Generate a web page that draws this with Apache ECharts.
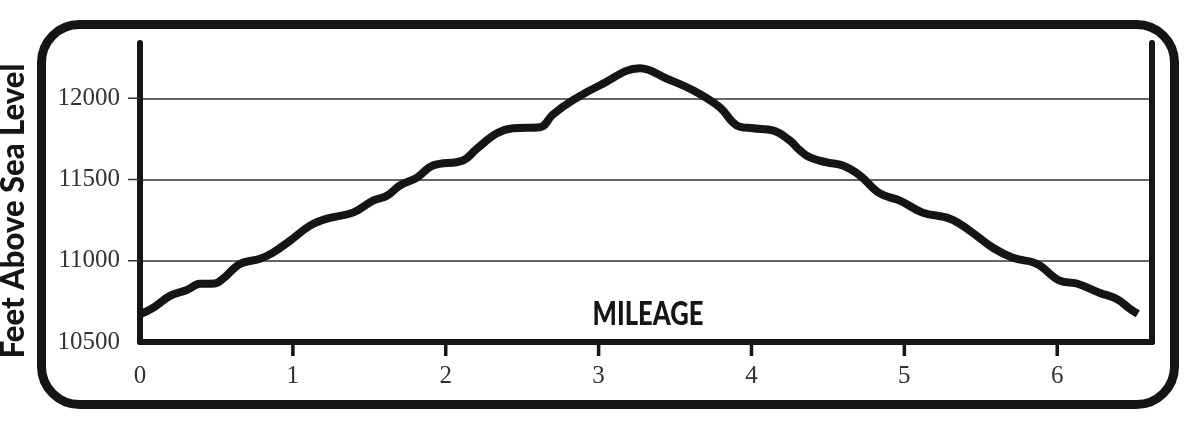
<!DOCTYPE html>
<html>
<head>
<meta charset="utf-8">
<script src="https://cdn.jsdelivr.net/npm/echarts@6/dist/echarts.min.js"></script>
<style>html,body{margin:0;padding:0;background:#fff;}#c{width:1200px;height:429px;}</style>
</head>
<body>
<div id="c"></div>
<script>
// Data
var miles = [0, 0.085, 0.196, 0.307, 0.392, 0.49, 0.543, 0.654, 0.785, 0.87, 0.981, 1.112, 1.223, 1.393, 1.524, 1.615, 1.7, 1.812, 1.916, 2.112, 2.204, 2.335, 2.44, 2.616, 2.701, 2.832, 3.009, 3.27, 3.447, 3.617, 3.793, 3.904, 4.009, 4.14, 4.251, 4.317, 4.382, 4.493, 4.598, 4.709, 4.84, 4.971, 5.121, 5.298, 5.428, 5.579, 5.71, 5.867, 6.017, 6.128, 6.279, 6.39, 6.475, 6.527];
var elevation = [10670, 10710, 10784, 10820, 10858, 10860, 10890, 10980, 11012, 11050, 11123, 11216, 11259, 11296, 11370, 11400, 11463, 11512, 11586, 11617, 11690, 11784, 11815, 11821, 11900, 11988, 12080, 12185, 12120, 12049, 11944, 11833, 11815, 11802, 11740, 11679, 11636, 11605, 11586, 11525, 11414, 11370, 11296, 11259, 11185, 11080, 11018, 10981, 10877, 10860, 10802, 10765, 10704, 10673];
var xTickLabels = [0, 1, 2, 3, 4, 5, 6];
var xTickMarks = [1, 2, 3, 4, 5, 6];
var yTickLabels = [10500, 11000, 11500, 12000];
var yTickMarks = [11000, 11500, 12000];
var yAxisTitle = 'Feet Above Sea Level';
var xAxisTitle = 'MILEAGE';
var xMin = 0, xMax = 6.62, yMin = 10500, yMax = 12340;

var seriesData = miles.map(function (m, i) { return [m, elevation[i]]; });

var chart = echarts.init(document.getElementById('c'), null, {renderer: 'canvas'});
var ink = '#151515';
var titleFont = 'Lato, Roboto, sans-serif';
chart.setOption({
  backgroundColor: '#ffffff',
  animation: false,
  grid: {left: 140, right: 48, top: 43, bottom: 87, containLabel: false, outerBoundsMode: 'none'},
  xAxis: {
    type: 'value', min: xMin, max: xMax, interval: 1,
    axisLine: {show: true, onZero: false, lineStyle: {color: ink, width: 6}},
    axisTick: {show: false},
    axisLabel: {show: true, customValues: xTickLabels, margin: 22, fontFamily: 'Liberation Serif', fontSize: 25, color: '#333',
      formatter: function (v) { return String(v); }},
    splitLine: {show: false}
  },
  yAxis: [{
    type: 'value', min: yMin, max: yMax, interval: 500,
    position: 'left',
    axisLine: {show: true, lineStyle: {color: ink, width: 6}},
    axisTick: {show: false},
    axisLabel: {show: true, customValues: yTickLabels, margin: 20, fontFamily: 'Liberation Serif', fontSize: 25, color: '#333',
      formatter: function (v) { return String(v); }},
    splitLine: {show: true, showMaxLine: false, showMinLine: false, lineStyle: {color: '#333', width: 1.5}}
  }, {
    type: 'value', min: yMin, max: yMax, interval: 500,
    position: 'right',
    axisLine: {show: true, lineStyle: {color: ink, width: 6}},
    axisTick: {show: false}, axisLabel: {show: false}, splitLine: {show: false}
  }],
  graphic: [{
    type: 'rect', silent: true,
    shape: {x: 41.5, y: 24.5, width: 1133, height: 380, r: 38},
    style: {fill: 'none', stroke: ink, lineWidth: 9}
  }, {
    type: 'text', silent: true, x: 648, y: 315, scaleX: 0.8,
    style: {text: xAxisTitle, fontFamily: titleFont, fontWeight: 900, fontSize: 32, fill: ink, align: 'center', verticalAlign: 'middle'}
  }, {
    type: 'text', silent: true, x: 14, y: 211, rotation: Math.PI / 2, scaleX: 0.97,
    style: {text: yAxisTitle, fontFamily: titleFont, fontWeight: 900, fontSize: 32, fill: ink, align: 'center', verticalAlign: 'middle'}
  }],
  series: [{
    type: 'line', data: seriesData, yAxisIndex: 0,
    showSymbol: false, smooth: 0.4,
    lineStyle: {color: ink, width: 8, cap: 'butt', join: 'round'}
  }, {
    // x-axis tick marks (1..6), placed through the axis scale
    type: 'custom', yAxisIndex: 0, clip: false, silent: true,
    data: xTickMarks.map(function (v) { return [v, yMin]; }),
    renderItem: function (params, api) {
      var p = api.coord([api.value(0), api.value(1)]);
      return {type: 'line', shape: {x1: p[0], y1: p[1], x2: p[0], y2: p[1] + 14}, style: {stroke: ink, lineWidth: 3.5}};
    }
  }, {
    // y-axis tick marks, placed through the axis scale
    type: 'custom', yAxisIndex: 0, clip: false, silent: true,
    data: yTickMarks.map(function (v) { return [xMin, v]; }),
    renderItem: function (params, api) {
      var p = api.coord([api.value(0), api.value(1)]);
      return {type: 'line', shape: {x1: p[0], y1: p[1], x2: p[0] - 12, y2: p[1]}, style: {stroke: '#333', lineWidth: 1.5}};
    }
  }]
});
</script>
</body>
</html>
